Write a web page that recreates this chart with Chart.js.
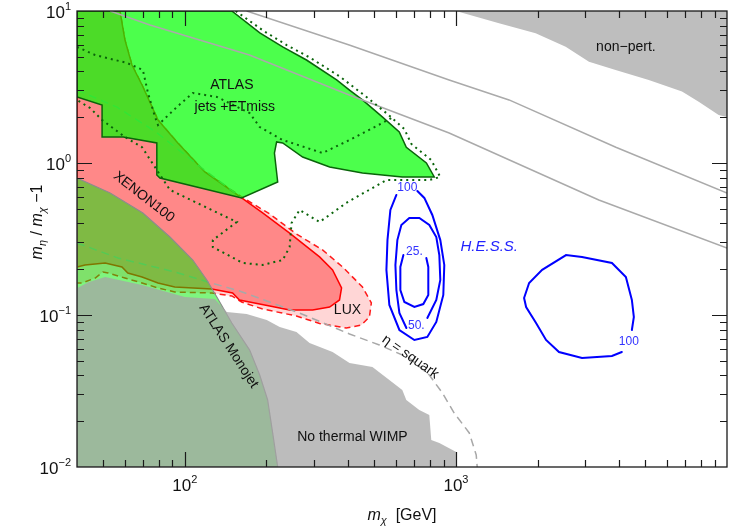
<!DOCTYPE html>
<html><head><meta charset="utf-8">
<script src="https://cdn.jsdelivr.net/npm/chart.js@4.4.1/dist/chart.umd.min.js"></script>
<style>html,body{margin:0;padding:0;background:#fff;}#wrap{width:730px;height:526px;position:relative;}</style>
</head><body><div id="wrap"><canvas id="c" width="730" height="526"></canvas></div>
<script>
// ---------- data (x = m_chi [GeV], y = m_eta/m_chi - 1) ----------
const nonPertX = [1000,1442,1968,2540,3096,3882,5145,6823,7863,9317,10000,10000];
const nonPertY = [10,8.3,7.13,5.82,4.64,4.09,3.52,2.95,2.53,2.07,2.01,10];

const luxX = [40,57.6,60.1,63.8,69.5,79.6,94.2,118.5,162,205.6,258,322,382,452,487.5,479.5,448,394,314,258,193.6,162,149,125.6,91.8,79.6,69.5,60.1,52.1,49.9,46.7,41.8,40];
const luxY = [10,10,6.45,4.41,3.26,1.918,1.354,0.873,0.598,0.462,0.341,0.268,0.207,0.1528,0.120,0.097,0.0859,0.0821,0.088,0.0985,0.1095,0.1218,0.1334,0.1396,0.1417,0.1507,0.1625,0.175,0.189,0.192,0.175,0.1625,0.1625];

const xenonX = [40,57.6,60.1,63.8,69.5,79.6,94.2,118.5,162,193.6,243.5,314,350.7,378.5,372,342,296,243.5,205.6,159,150,125.6,91.8,79.6,69.5,61.6,58.6,50.8,42.8,40,40];
const xenonY = [10,10,6.45,4.41,3.26,1.918,1.354,0.873,0.589,0.469,0.346,0.241,0.198,0.1507,0.1256,0.1129,0.1079,0.1079,0.1146,0.1256,0.1396,0.1483,0.1528,0.1625,0.1778,0.189,0.207,0.220,0.2134,0.207,10];

const atlasX = [40,149,189,229.5,281,363,405,452,535,618,656,778,832,634,452,342,272,229.5,218,214,220,162,80.9,78.8,78.8,59.2,49.5,49.5,40,40];
const atlasY = [10,10,7.17,5.80,4.76,3.52,3.02,2.60,2.01,1.60,1.27,1.0,0.809,0.809,0.86,0.941,1.095,1.354,1.375,1.163,0.75,0.589,0.797,0.834,1.354,1.483,1.483,2.41,2.72,10];

const monojetX = [40,53,70,88.1,107,120.5,131.2,149,173.4,188.8,202,210.8,220,40,40];
const monojetY = [0.797,0.635,0.469,0.326,0.230,0.170,0.1313,0.0886,0.0588,0.0403,0.0276,0.01675,0.01,0.01,0.797];

const noThermalX = [40,40,44,50.8,69.5,100,128.9,142.8,169,200.5,223.8,258,288.4,350.7,405,492,568,634,656,732.5,797.5,811,868.5,1003,1003];
const noThermalY = [0.01,0.150,0.164,0.178,0.1575,0.1313,0.1274,0.1047,0.1015,0.0927,0.0834,0.0773,0.0654,0.0571,0.0484,0.0455,0.0373,0.0321,0.0276,0.0237,0.022,0.01506,0.0144,0.01256,0.01];

const squarkX = [40,56.7,91.8,121.5,159,265,405,522,673,797.5,891,986,1120,1188,1198];
const squarkY = [0.298,0.237,0.192,0.165,0.144,0.103,0.075,0.0635,0.0521,0.0403,0.0307,0.0226,0.01675,0.012,0.01];

const dashUpX = [40,56.2,78.2,115.5,162];
const dashUpY = [3.02,2.33,1.60,0.927,0.589];

const grayUpX = [169,404,944,1570,3890,10000];
const grayUpY = [10,5.97,3.52,2.60,1.27,0.635];
const grayLowX = [53,74.3,173,404,944,3366,10000];
const grayLowY = [10,8.09,5.14,2.80,1.575,0.571,0.276];

const dot1X = [154,195.4,237.5,291,375,419,467.7,559,645,685,811,875,797.5,554,394,314,265,247.5,243.5,229.5,193.6,163.5,126.8,126.8,155.4,88.1,78.8,69.5,60.1,49.5,44.7,40];
const dot1Y = [10,7.39,5.97,4.91,3.68,3.16,2.72,2.10,1.674,1.334,1.046,0.809,0.773,0.773,0.546,0.409,0.491,0.403,0.280,0.230,0.2134,0.220,0.280,0.311,0.409,0.665,0.90,1.27,1.483,1.918,2.30,2.60];
const dot2X = [40,46.7,61.2,70.0,73.1,77.6,79.6,93.4,107,131.2,173.4,188.8,229.5,322,405,535,578];
const dot2Y = [5.80,5.13,4.55,4.09,2.89,2.01,1.778,2.335,2.89,2.72,2.13,1.725,1.417,1.163,1.417,1.833,1.977];

const hess100aX = [603,573,559,554,568,618.6,702.6,784.3,846.4,898.3,905.8,875.7,818.2,764.5,720.6];
const hess100aY = [0.616,0.491,0.311,0.198,0.1164,0.0797,0.0685,0.0717,0.090,0.1355,0.2134,0.311,0.455,0.589,0.654];
const hess50X = [656.5,618.6,603,598,608,629,673,732.8,797.6,846.4,868.4,875.7,846.4,784.3];
const hess50Y = [0.0821,0.1031,0.146,0.2134,0.311,0.391,0.4346,0.4346,0.391,0.326,0.248,0.170,0.1256,0.0956];
const hess25X = [640,623.7,623.7,645.4,702.6,758,790.8,790.8,777.6];
const hess25Y = [0.248,0.207,0.146,0.1218,0.1129,0.118,0.1355,0.207,0.237];
const hess100bX = [4457,4533,4457,4236,3763,2918,2548,2080,1862,1784,1815,1975,2150,2400,2918,3763,4093];
const hess100bY = [0.0797,0.097,0.1256,0.1778,0.220,0.241,0.248,0.198,0.1625,0.1294,0.1129,0.0886,0.0685,0.0571,0.0521,0.0537,0.0571];

// tick marks / labels
const xMajorTicks = [100,1000];
const xTickExps = ['2','3'];
const yMajorTicks = [0.01,0.1,1,10];
const yTickExps = ['\u22122','\u22121','0','1'];

// text labels [text, x, y, angle(deg), colour, font]
const LS = '"Liberation Sans", Arial, sans-serif';
const labels = [
  ['ATLAS', 149, 3.26, 0, '#111', '14px '+LS],
  ['jets +ETmiss', 152.8, 2.335, 0, '#111', '14px '+LS],
  ['XENON100', 70.6, 0.598, 38, '#111', '14px '+LS],
  ['ATLAS Monojet', 145, 0.0625, 57, '#111', '14px '+LS],
  ['LUX', 398, 0.108, 0, '#111', '14px '+LS],
  ['\u03b7 = squark', 679, 0.053, 35, '#111', '14px '+LS],
  ['No thermal WIMP', 415, 0.0157, 0, '#111', '14px '+LS],
  ['non\u2212pert.', 4236, 5.80, 0, '#111', '14px '+LS],
  ['H.E.S.S.', 1327, 0.280, 0, '#2222ff', 'italic 15px '+LS],
  ['100', 662, 0.685, 0, '#3333ff', '12px '+LS],
  ['50.', 714.5, 0.0847, 0, '#3333ff', '12px '+LS],
  ['25.', 702.6, 0.26, 0, '#3333ff', '12px '+LS],
  ['100', 4345, 0.0664, 0, '#3333ff', '12px '+LS]
];

function pts(xs, ys){ return xs.map((x,i)=>({x:x, y:ys[i]})); }
function region(data, fillCol, lineCol, lw, dash, order){
  return {data, showLine:true, fill:'shape', backgroundColor:fillCol, borderColor:lineCol,
          borderWidth:lw, borderDash:dash||[], pointRadius:0, tension:0, order, clip:0};
}
function curve(data, col, lw, dash, order, cap){
  return {data, showLine:true, fill:false, borderColor:col, borderWidth:lw, borderDash:dash||[],
          borderCapStyle:cap||'butt', pointRadius:0, tension:0, order, clip:0};
}

const datasets = [
  region(pts(nonPertX,nonPertY), '#bebebe', 'rgba(0,0,0,0)', 0, null, 30),
  region(pts(luxX,luxY), '#ffd6d6', '#ff1a1a', 1.5, [6,4], 29),
  region(pts(xenonX,xenonY), '#ff8888', '#ff0000', 1.5, null, 28),
  curve(pts(squarkX,squarkY), '#a8a8a8', 1.5, [8,5], 27),
  curve(pts(dashUpX,dashUpY), '#a8a8a8', 1.5, [8,5], 26),
  region(pts(atlasX,atlasY), 'rgba(0,255,0,0.7)', '#0a640a', 1.5, null, 25),
  region(pts(monojetX,monojetY), 'rgba(0,235,0,0.5)', '#8c8c8c', 1.2, null, 24),
  region(pts(noThermalX,noThermalY), 'rgba(165,165,165,0.75)', 'rgba(0,0,0,0)', 0, null, 23),
  curve(pts(grayUpX,grayUpY), '#aaaaaa', 1.5, null, 22),
  curve(pts(grayLowX,grayLowY), '#aaaaaa', 1.5, null, 21),
  curve(pts(dot1X,dot1Y), '#0a640a', 2, [2,4], 20),
  curve(pts(dot2X,dot2Y), '#0a640a', 2, [2,4], 19),
  curve(pts(hess100aX,hess100aY), '#0000ff', 2, null, 18, 'round'),
  curve(pts(hess50X,hess50Y), '#0000ff', 2, null, 17, 'round'),
  curve(pts(hess25X,hess25Y), '#0000ff', 2, null, 16, 'round'),
  curve(pts(hess100bX,hess100bY), '#0000ff', 2, null, 15, 'round')
];

function drawSegs(ctx, segs, x, y, align){
  let w = 0;
  segs.forEach(s=>{ ctx.font = s.f; w += ctx.measureText(s.t).width; });
  let cx = align==='center' ? x - w/2 : (align==='right' ? x - w : x);
  ctx.textAlign = 'left'; ctx.textBaseline = 'alphabetic';
  segs.forEach(s=>{ ctx.font = s.f; ctx.fillText(s.t, cx, y + (s.dy||0)); cx += ctx.measureText(s.t).width; });
}

const decorations = {
  id: 'decorations',
  afterDatasetsDraw(chart){
    const ctx = chart.ctx, a = chart.chartArea, xs = chart.scales.x, ys = chart.scales.y;
    ctx.save();
    // in-plot labels
    labels.forEach(l=>{
      const px = xs.getPixelForValue(l[1]), py = ys.getPixelForValue(l[2]);
      ctx.save(); ctx.translate(px, py); ctx.rotate(l[3]*Math.PI/180);
      ctx.fillStyle = l[4]; ctx.font = l[5]; ctx.textAlign = 'center'; ctx.textBaseline = 'middle';
      ctx.fillText(l[0], 0, 0); ctx.restore();
    });
    // frame
    ctx.strokeStyle = '#1a1a1a'; ctx.lineWidth = 1.3;
    ctx.strokeRect(a.left, a.top, a.right - a.left, a.bottom - a.top);
    // ticks on all four sides
    ctx.lineWidth = 1.2; ctx.beginPath();
    for (let d = -3; d <= 4; d++) for (let m = 1; m <= 9; m++) {
      const v = m * Math.pow(10, d);
      const L = (m === 1) ? 15 : 7;
      if (v > xs.min*1.0001 && v < xs.max*0.9999) {
        const px = Math.round(xs.getPixelForValue(v)) + 0.5;
        ctx.moveTo(px, a.bottom); ctx.lineTo(px, a.bottom - L);
        ctx.moveTo(px, a.top); ctx.lineTo(px, a.top + L);
      }
      if (v > ys.min*1.0001 && v < ys.max*0.9999) {
        const py = Math.round(ys.getPixelForValue(v)) + 0.5;
        ctx.moveTo(a.left, py); ctx.lineTo(a.left + L, py);
        ctx.moveTo(a.right, py); ctx.lineTo(a.right - L, py);
      }
    }
    ctx.stroke();
    // tick labels
    ctx.fillStyle = '#111';
    const big = '17px ' + LS, small = '11px ' + LS;
    xMajorTicks.forEach((v,i)=>{
      drawSegs(ctx, [{t:'10', f:big}, {t:xTickExps[i], f:small, dy:-8}], xs.getPixelForValue(v), a.bottom + 24, 'center');
    });
    yMajorTicks.forEach((v,i)=>{
      drawSegs(ctx, [{t:'10', f:big}, {t:yTickExps[i], f:small, dy:-8}], a.left - 6, ys.getPixelForValue(v) + 7, 'right');
    });
    // axis titles
    const it = 'italic 16px ' + LS, nm = '16px ' + LS, sub = 'italic 11px ' + LS;
    drawSegs(ctx, [{t:'m', f:it}, {t:'\u03c7', f:sub, dy:4}, {t:'  [GeV]', f:nm}], 402, 520, 'center');
    ctx.save(); ctx.translate(42, 222); ctx.rotate(-Math.PI/2);
    drawSegs(ctx, [{t:'m', f:it}, {t:'\u03b7', f:sub, dy:4}, {t:' / ', f:nm}, {t:'m', f:it}, {t:'\u03c7', f:sub, dy:4}, {t:' \u22121', f:nm}], 0, 0, 'center');
    ctx.restore();
    ctx.restore();
  }
};

new Chart(document.getElementById('c'), {
  type: 'scatter',
  data: { datasets },
  options: {
    responsive: false, animation: false, devicePixelRatio: 1,
    layout: { padding: { left: 77, right: 3, top: 11, bottom: 59 } },
    plugins: { legend: { display: false }, tooltip: { enabled: false }, filler: { propagate: false } },
    scales: {
      x: { type: 'logarithmic', min: 40, max: 10000, display: false },
      y: { type: 'logarithmic', min: 0.01, max: 10, display: false }
    }
  },
  plugins: [decorations]
});
</script>
</body></html>
